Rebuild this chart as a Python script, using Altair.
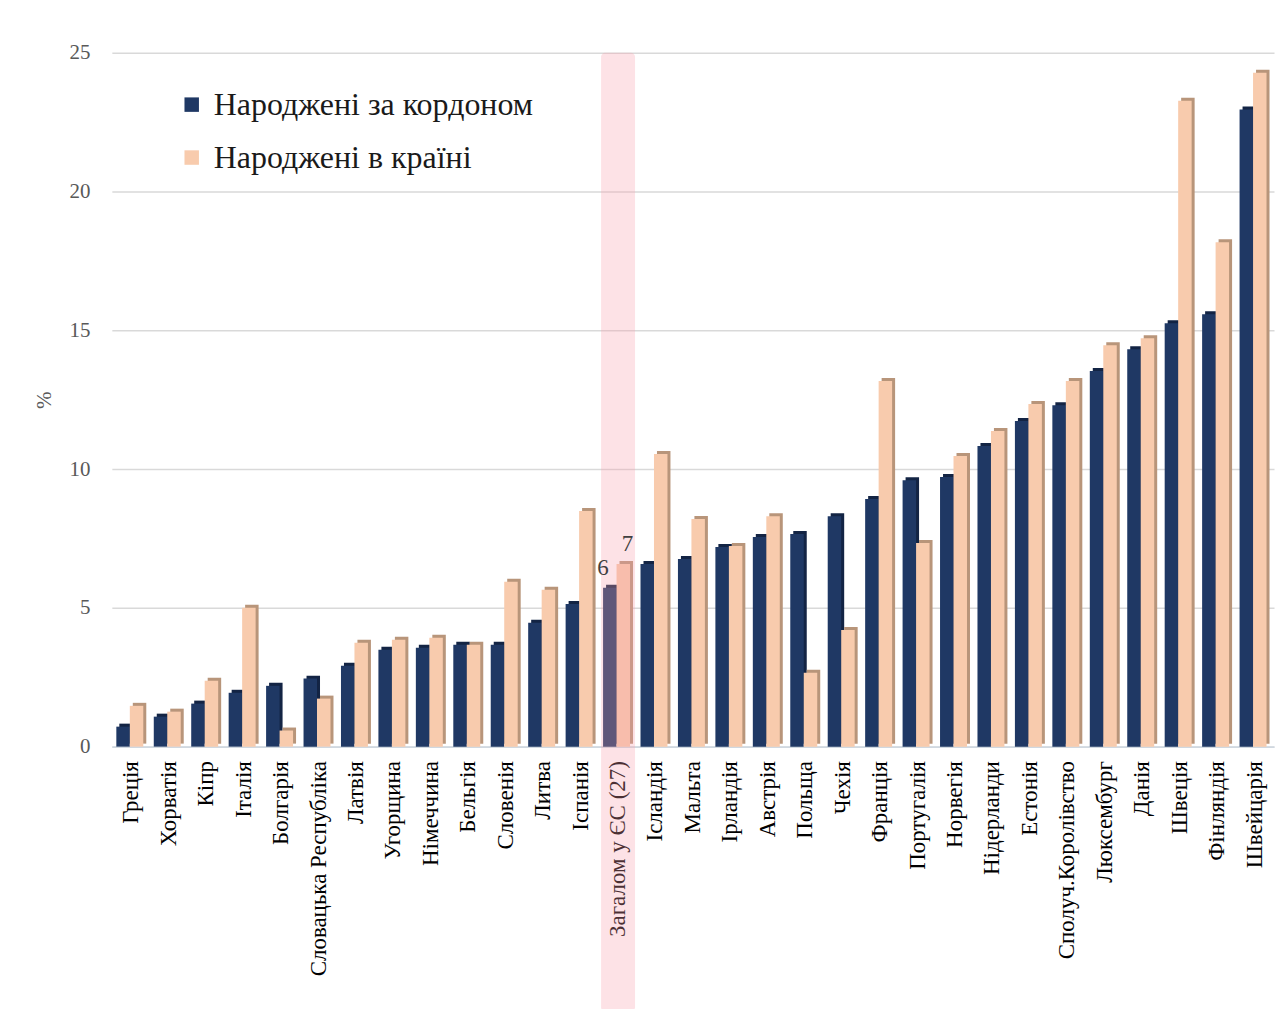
import altair as alt
import pandas as pd

categories = ["Греція", "Хорватія", "Кіпр", "Італія", "Болгарія", "Словацька Республіка",
              "Латвія", "Угорщина", "Німеччина", "Бельгія", "Словенія", "Литва", "Іспанія",
              "Загалом у ЄС (27)", "Ісландія", "Мальта", "Ірландія", "Австрія", "Польща",
              "Чехія", "Франція", "Португалія", "Норвегія", "Нідерланди", "Естонія",
              "Сполуч.Королівство", "Люксембург", "Данія", "Швеція", "Фінляндія", "Швейцарія"]
foreign_born = [0.72, 1.08, 1.55, 1.94, 2.19, 2.45, 2.91, 3.49, 3.56, 3.67, 3.67, 4.46, 5.14,
                5.72, 6.58, 6.76, 7.19, 7.55, 7.66, 8.30, 8.92, 9.60, 9.71, 10.83, 11.73,
                12.30, 13.53, 14.32, 15.25, 15.58, 22.95]
native_born = [1.47, 1.26, 2.37, 5.00, 0.58, 1.73, 3.74, 3.85, 3.92, 3.67, 5.94, 5.65, 8.49,
               6.58, 10.54, 8.20, 7.23, 8.30, 2.66, 4.20, 13.17, 7.34, 10.47, 11.37, 12.34,
               13.17, 14.46, 14.71, 23.27, 18.17, 24.28]
series_names = ["Народжені за кордоном", "Народжені в країні"]
series_colors = ["#1f3864", "#f8cbad"]
side_colors = ["#132444", "#b8957a"]
eu_label = "Загалом у ЄС (27)"

rows = []
for c, f, n in zip(categories, foreign_born, native_born):
    rows.append({"category": c, "series": series_names[0], "value": f})
    rows.append({"category": c, "series": series_names[1], "value": n})
df = pd.DataFrame(rows)
df["label"] = df["value"].round(0).astype(int).astype(str)

FONT = "Liberation Serif"

x_enc = alt.X("category:N", sort=categories,
              scale=alt.Scale(paddingInner=0.2, paddingOuter=0.12),
              axis=alt.Axis(title=None, labelAngle=-90, labelFont=FONT, labelFontSize=23,
                            labelColor="#000000", labelPadding=14, ticks=False,
                            domainColor="#d0d8e0", domainWidth=2, labelLimit=400))
front_off = alt.XOffset("series:N", sort=series_names,
                        scale=alt.Scale(paddingInner=0, paddingOuter=0.111, align=0))
side_off = alt.XOffset("series:N", sort=series_names,
                       scale=alt.Scale(paddingInner=0, paddingOuter=0.111, align=1))
y_enc = alt.Y("value:Q", scale=alt.Scale(domain=[0, 25], nice=False),
              axis=alt.Axis(values=[0, 5, 10, 15, 20, 25], title="%", titleFont=FONT,
                            titleFontSize=21, titleFontWeight="normal", titleColor="#595959",
                            titlePadding=14, labelFont=FONT, labelFontSize=21,
                            labelColor="#595959", gridColor="#d9d9d9", gridWidth=1.5,
                            domain=False, ticks=False, labelPadding=22))

side = alt.Chart(df).mark_bar(yOffset=-3).encode(
    x=x_enc, xOffset=side_off, y=y_enc,
    color=alt.Color("series:N", sort=series_names,
                    scale=alt.Scale(domain=series_names, range=side_colors), legend=None),
)

bars = alt.Chart(df).mark_bar().encode(
    x=x_enc, xOffset=front_off, y=y_enc,
    color=alt.Color("series:N", sort=series_names,
                    scale=alt.Scale(domain=series_names, range=series_colors),
                    legend=alt.Legend(title=None, orient="none", legendX=64, legendY=36,
                                      symbolType="square", symbolSize=210,
                                      symbolStrokeWidth=0, labelFont=FONT,
                                      labelFontSize=32, labelColor="#1a1a1a",
                                      labelOffset=6, rowPadding=21, padding=0,
                                      labelLimit=600)),
)

eu_df = df[df["category"] == eu_label]

band = alt.Chart(pd.DataFrame({"category": [eu_label]})).mark_bar(
    color="#f7a0ab", opacity=0.3, width=34, cornerRadius=4
).encode(
    x=alt.X("category:N", sort=categories),
    y=alt.value(0), y2=alt.value(960),
)

labels = alt.Chart(eu_df).mark_text(
    font=FONT, fontSize=23, color="#404040", baseline="bottom", dy=-8
).encode(
    x=alt.X("category:N", sort=categories), xOffset=front_off,
    y="value:Q", text="label:N",
)

chart = alt.layer(side, bars, band, labels).resolve_scale(
    color="independent", xOffset="independent"
).properties(
    width=1164, height=695,
    autosize=alt.AutoSizeParams(type="none"),
    padding={"left": 104, "top": 44, "right": 6, "bottom": 262},
    background="white",
).configure_view(stroke=None)

chart.save("out.html", embed_options={"renderer": "svg", "actions": False})
